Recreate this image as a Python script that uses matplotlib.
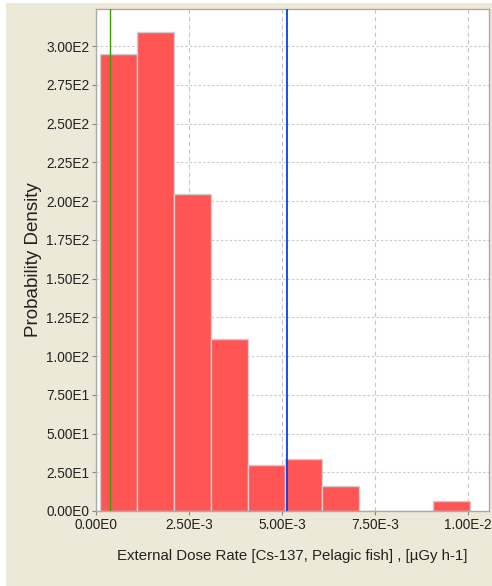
import numpy as np
import matplotlib.pyplot as plt
from matplotlib.patches import Rectangle
from matplotlib.ticker import FixedLocator

# histogram (probability density), 10 equal bins
bin_lo = 0.000108
bin_hi = 0.01005
density = [294.8, 308.8, 204.5, 111.0, 29.7, 33.5, 16.3, 0.0, 0.0, 6.5]
green_x = 0.000368
blue_x = 0.00512

x_ticks = [0.0, 0.0025, 0.005, 0.0075, 0.01]
x_labels = ["0.00E0", "2.50E-3", "5.00E-3", "7.50E-3", "1.00E-2"]
y_ticks = [0, 25, 50, 75, 100, 125, 150, 175, 200, 225, 250, 275, 300]
y_labels = ["0.00E0", "2.50E1", "5.00E1", "7.50E1", "1.00E2", "1.25E2", "1.50E2",
            "1.75E2", "2.00E2", "2.25E2", "2.50E2", "2.75E2", "3.00E2"]

plt.rcParams['font.family'] = ['Liberation Sans', 'DejaVu Sans']
txt = "#222222"
bg = "#ece9d8"

fig = plt.figure(figsize=(4.92, 5.86), dpi=100, facecolor="white")
fig.patches.append(Rectangle((6 / 492, 0), 1, 1 - 3 / 586, transform=fig.transFigure,
                             facecolor=bg, edgecolor="none", zorder=-10))

ax = fig.add_axes([96 / 492, 1 - 511 / 586, (489 - 96) / 492, (511 - 9) / 586])
ax.set_facecolor("white")

edges = np.linspace(bin_lo, bin_hi, len(density) + 1)
ax.bar(edges[:-1], density, width=np.diff(edges), align="edge",
       color="#ff5555", edgecolor="#cfcfcf", linewidth=1.0, zorder=2)

ax.axvline(green_x, color="#3aa000", linewidth=1.0, zorder=3)
ax.axvline(blue_x, color="#0044ee", linewidth=1.3, zorder=3)

ax.set_xlim(0, 0.01056)
ax.set_ylim(0, 323.9)
ax.xaxis.set_major_locator(FixedLocator(x_ticks))
ax.set_xticklabels(x_labels)
ax.yaxis.set_major_locator(FixedLocator(y_ticks))
ax.set_yticklabels(y_labels)

ax.grid(axis="x", color="#c8c8c8", linestyle=(0, (4, 3)), linewidth=0.8, zorder=1)
ax.grid(axis="y", color="#c8c8c8", linestyle=(0, (2, 2)), linewidth=0.8, zorder=1)
ax.set_axisbelow(True)

for s in ax.spines.values():
    s.set_color("#aaaaaa")
    s.set_linewidth(1.0)

ax.tick_params(axis="both", colors="#888888", labelcolor=txt, labelsize=9.8,
               length=3, width=0.8, pad=2)

ax.set_xlabel("External Dose Rate [Cs-137, Pelagic fish] , [µGy h-1]",
              fontsize=10.8, color=txt, labelpad=12)
ax.set_ylabel("Probability Density", fontsize=13.5, color=txt, labelpad=3)

fig.savefig("out.png", dpi=100, facecolor=fig.get_facecolor())
